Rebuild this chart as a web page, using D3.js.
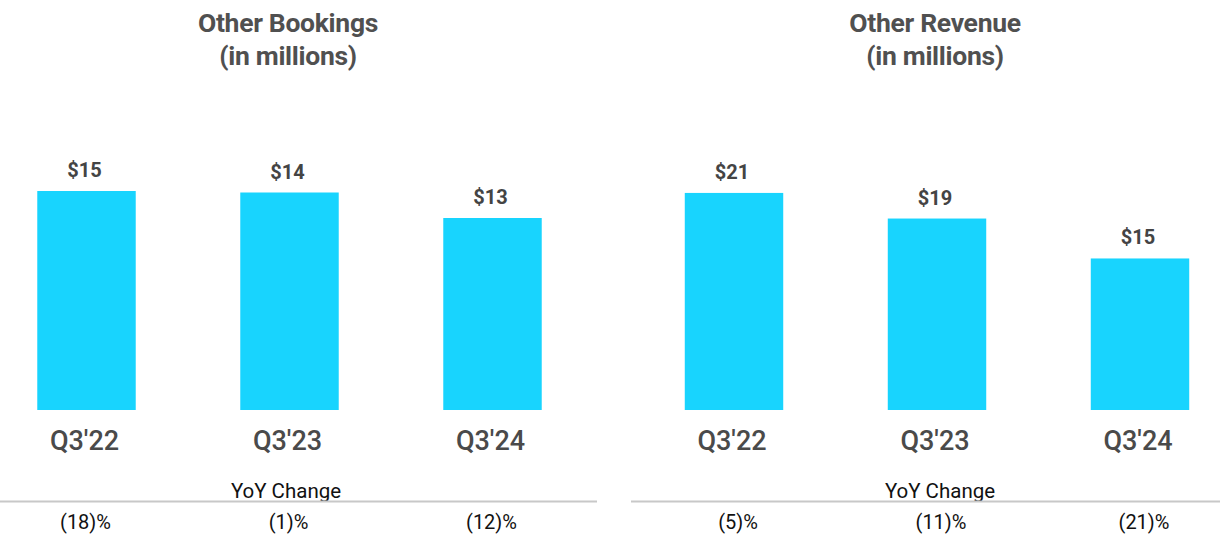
<!DOCTYPE html>
<html>
<head>
<meta charset="utf-8">
<script src="https://cdn.jsdelivr.net/npm/d3@7"></script>
<style>
  html, body { margin: 0; padding: 0; background: #fff; }
  svg { display: block; font-family: Roboto, "Noto Sans", sans-serif; }
</style>
</head>
<body>
<svg id="chart" width="1220" height="558"></svg>
<script>
// ---- data ----
const categories = ["Q3'22", "Q3'23", "Q3'24"];

const bookingsTitle = ["Other Bookings", "(in millions)"];
const bookingsValues = [14.6, 14.5, 12.8];
const bookingsLabels = ["$15", "$14", "$13"];
const bookingsYoY = ["(18)%", "(1)%", "(12)%"];

const revenueTitle = ["Other Revenue", "(in millions)"];
const revenueValues = [21.2, 18.7, 14.8];
const revenueLabels = ["$21", "$19", "$15"];
const revenueYoY = ["(5)%", "(11)%", "(21)%"];

const yoyHeading = "YoY Change";

// ---- drawing ----
const svg = d3.select("#chart");
const BAR = "#18D4FE";
const baseY = 410, topY = 110;

function panel(cfg) {
  const g = svg.append("g");
  const x = d3.scaleBand()
    .domain(categories)
    .range(cfg.xRange)
    .paddingInner(0.515)
    .paddingOuter(0.2575);
  const y = d3.scaleLinear().domain([0, cfg.yMax]).range([baseY, topY]);

  // title
  const t = g.append("text")
    .attr("x", cfg.titleX)
    .attr("text-anchor", "middle")
    .attr("fill", "#505050")
    .attr("font-weight", 700)
    .attr("font-size", 26.5)
    .attr("letter-spacing", -0.3);
  cfg.title.forEach((line, i) => {
    t.append("tspan").attr("x", cfg.titleX).attr("y", 32 + i * 33).text(line);
  });

  const data = categories.map((c, i) => ({ c, v: cfg.values[i], label: cfg.labels[i], yoy: cfg.yoy[i] }));

  g.selectAll("rect.bar").data(data).join("rect")
    .attr("class", "bar")
    .attr("x", d => x(d.c))
    .attr("width", x.bandwidth())
    .attr("y", d => y(d.v))
    .attr("height", d => y(0) - y(d.v))
    .attr("fill", BAR);

  g.selectAll("text.val").data(data).join("text")
    .attr("class", "val")
    .attr("x", d => x(d.c) + x.bandwidth() / 2 - 2)
    .attr("y", d => y(d.v) - 14)
    .attr("text-anchor", "middle")
    .attr("fill", "#444444")
    .attr("font-weight", 700)
    .attr("font-size", 20)
    .text(d => d.label);

  // category axis (no line, no ticks)
  const ax = g.append("g")
    .attr("transform", `translate(0,${baseY})`)
    .call(d3.axisBottom(x).tickSize(0).tickPadding(21));
  ax.select(".domain").remove();
  ax.selectAll("text")
    .attr("font-family", "Roboto, sans-serif")
    .attr("font-weight", 500)
    .attr("font-size", 27)
    .attr("fill", "#4a4a4a")
    .attr("dx", -2);

  // YoY heading + rule
  g.append("text")
    .attr("x", cfg.yoyX)
    .attr("y", 498)
    .attr("text-anchor", "middle")
    .attr("fill", "#111111")
    .attr("font-size", 20.5)
    .text(yoyHeading);
  g.append("line")
    .attr("x1", cfg.ruleX[0]).attr("x2", cfg.ruleX[1])
    .attr("y1", 501.5).attr("y2", 501.5)
    .attr("stroke", "#c8c8c8").attr("stroke-width", 2);

  g.selectAll("text.yoy").data(data).join("text")
    .attr("class", "yoy")
    .attr("x", d => x(d.c) + x.bandwidth() / 2 + cfg.yoyShift)
    .attr("y", 529)
    .attr("text-anchor", "middle")
    .attr("fill", "#111111")
    .attr("font-size", 20)
    .text(d => d.yoy);
}

panel({
  xRange: [-15, 594], yMax: 20, titleX: 288,
  title: bookingsTitle, values: bookingsValues, labels: bookingsLabels, yoy: bookingsYoY,
  yoyX: 286, ruleX: [0, 597], yoyShift: -1
});
panel({
  xRange: [632.5, 1241.5], yMax: 29.3, titleX: 935,
  title: revenueTitle, values: revenueValues, labels: revenueLabels, yoy: revenueYoY,
  yoyX: 940, ruleX: [631, 1220], yoyShift: 4
});
</script>
</body>
</html>
